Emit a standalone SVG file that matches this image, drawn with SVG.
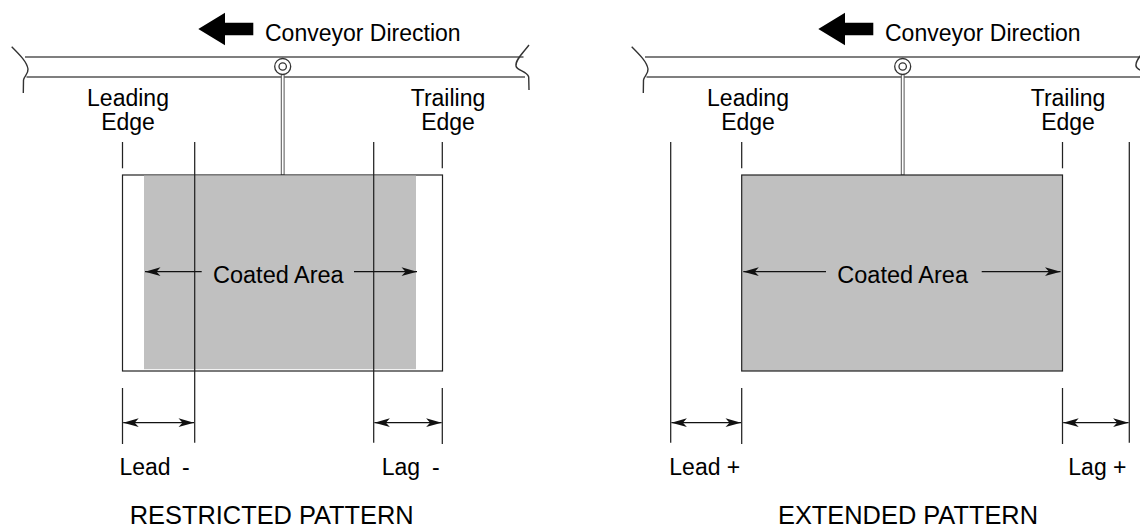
<svg xmlns="http://www.w3.org/2000/svg" width="1140" height="527" viewBox="0 0 1140 527">
<style>
text{font-family:"Liberation Sans",Arial,Helvetica,sans-serif;fill:#000}
.lbl{font-size:23px}
.ttl{font-size:25.4px}
.ln{stroke:#222;stroke-width:1.25;fill:none}
.cv{stroke:#555;stroke-width:1.4;fill:none}
.brk{stroke:#333;stroke-width:1.4;fill:none}
.dim{stroke:#111;stroke-width:1.25;fill:none}
.rod{fill:#fff;stroke:#555;stroke-width:1}
</style>
<defs>
<marker id="ah" viewBox="-16 -6 17 12" refX="0" refY="0" markerWidth="17" markerHeight="12" markerUnits="userSpaceOnUse" orient="auto-start-reverse">
<path d="M0,0 L-15.5,-4.4 L-11.5,0 L-15.5,4.4 Z" fill="#111"/>
</marker>
<g id="conveyorBase">
<path class="brk" d="M11.7,46.7 C20,55 27,62 28,69 C28.5,74 24,76 23.5,80 L23.3,93"/>
<line class="cv" x1="25" y1="57" x2="523.5" y2="57"/>
<line class="cv" x1="26.5" y1="77" x2="525" y2="77"/>
<path class="brk" d="M529,45 C523,53 515,60 516,66 C517,71 527,71 528.7,77 L529,90"/>
<path d="M198.3,29 L225,12.8 L225,22.8 L253.3,22.8 L253.3,35.2 L225,35.2 L225,45.2 Z" fill="#000"/>
<text class="lbl" x="265" y="41">Conveyor Direction</text>
<rect class="rod" x="281.3" y="70" width="2.8" height="105"/>
<circle cx="282.7" cy="66.5" r="8" fill="#fff" stroke="#333" stroke-width="1.3"/>
<circle cx="282.7" cy="66.5" r="3.7" fill="#fff" stroke="#333" stroke-width="1.3"/>
</g>
</defs>

<g id="restricted-conveyor"><use href="#conveyorBase"/></g>
<g id="extended-conveyor"><use href="#conveyorBase" transform="translate(620,0)"/></g>

<g id="restricted-part">
<rect x="122.5" y="175" width="320" height="196" fill="#fff" stroke="#222" stroke-width="1.2"/>
<rect x="144" y="175.6" width="272" height="193.6" fill="#c0c0c0"/>
</g>
<g id="restricted-labels">
<text class="lbl" x="128" y="106" text-anchor="middle">Leading</text>
<text class="lbl" x="128" y="129.5" text-anchor="middle">Edge</text>
<text class="lbl" x="448" y="106" text-anchor="middle">Trailing</text>
<text class="lbl" x="448" y="129.5" text-anchor="middle">Edge</text>
<text class="lbl" x="213" y="282.7" style="font-size:23.5px">Coated Area</text>
<text class="lbl" x="119.5" y="475" word-spacing="5">Lead -</text>
<text class="lbl" x="381.7" y="475" word-spacing="5.5">Lag -</text>
<text class="ttl" x="271.7" y="524" text-anchor="middle">RESTRICTED PATTERN</text>
</g>

<g id="extended-part">
<rect x="741.7" y="175" width="320.8" height="196" fill="#c0c0c0" stroke="#222" stroke-width="1.2"/>
</g>
<g id="extended-labels">
<text class="lbl" x="748" y="106" text-anchor="middle">Leading</text>
<text class="lbl" x="748" y="129.5" text-anchor="middle">Edge</text>
<text class="lbl" x="1068" y="106" text-anchor="middle">Trailing</text>
<text class="lbl" x="1068" y="129.5" text-anchor="middle">Edge</text>
<text class="lbl" x="837.3" y="282.7" style="font-size:23.5px">Coated Area</text>
<text class="lbl" x="669.3" y="475">Lead +</text>
<text class="lbl" x="1068.3" y="475">Lag +</text>
<text class="ttl" x="908" y="524" text-anchor="middle">EXTENDED PATTERN</text>
</g>

<g id="connectors">
<line class="ln" x1="122.5" y1="142" x2="122.5" y2="168.3"/>
<line class="ln" x1="442.3" y1="142" x2="442.3" y2="168.3"/>
<line class="ln" x1="122.5" y1="388" x2="122.5" y2="444"/>
<line class="ln" x1="442.3" y1="388" x2="442.3" y2="444"/>
<line class="ln" x1="194.7" y1="142" x2="194.7" y2="442.7"/>
<line class="ln" x1="373.7" y1="142" x2="373.7" y2="442.7"/>
<line class="dim" x1="201.7" y1="271.7" x2="145" y2="271.7" marker-end="url(#ah)"/>
<line class="dim" x1="354" y1="271.7" x2="417" y2="271.7" marker-end="url(#ah)"/>
<line class="dim" x1="123.2" y1="422.7" x2="194" y2="422.7" marker-start="url(#ah)" marker-end="url(#ah)"/>
<line class="dim" x1="374.4" y1="422.7" x2="441.6" y2="422.7" marker-start="url(#ah)" marker-end="url(#ah)"/>
<line class="ln" x1="741.7" y1="142" x2="741.7" y2="168.3"/>
<line class="ln" x1="1062.5" y1="142" x2="1062.5" y2="168.3"/>
<line class="ln" x1="741.7" y1="388" x2="741.7" y2="444"/>
<line class="ln" x1="1062.5" y1="388" x2="1062.5" y2="444"/>
<line class="ln" x1="670.7" y1="142" x2="670.7" y2="442.7"/>
<line class="ln" x1="1129.3" y1="142" x2="1129.3" y2="442.7"/>
<line class="dim" x1="826" y1="271.7" x2="743.3" y2="271.7" marker-end="url(#ah)"/>
<line class="dim" x1="981.7" y1="271.7" x2="1060.5" y2="271.7" marker-end="url(#ah)"/>
<line class="dim" x1="671.4" y1="422.7" x2="741" y2="422.7" marker-start="url(#ah)" marker-end="url(#ah)"/>
<line class="dim" x1="1063.2" y1="422.7" x2="1128.6" y2="422.7" marker-start="url(#ah)" marker-end="url(#ah)"/>
</g>
</svg>
